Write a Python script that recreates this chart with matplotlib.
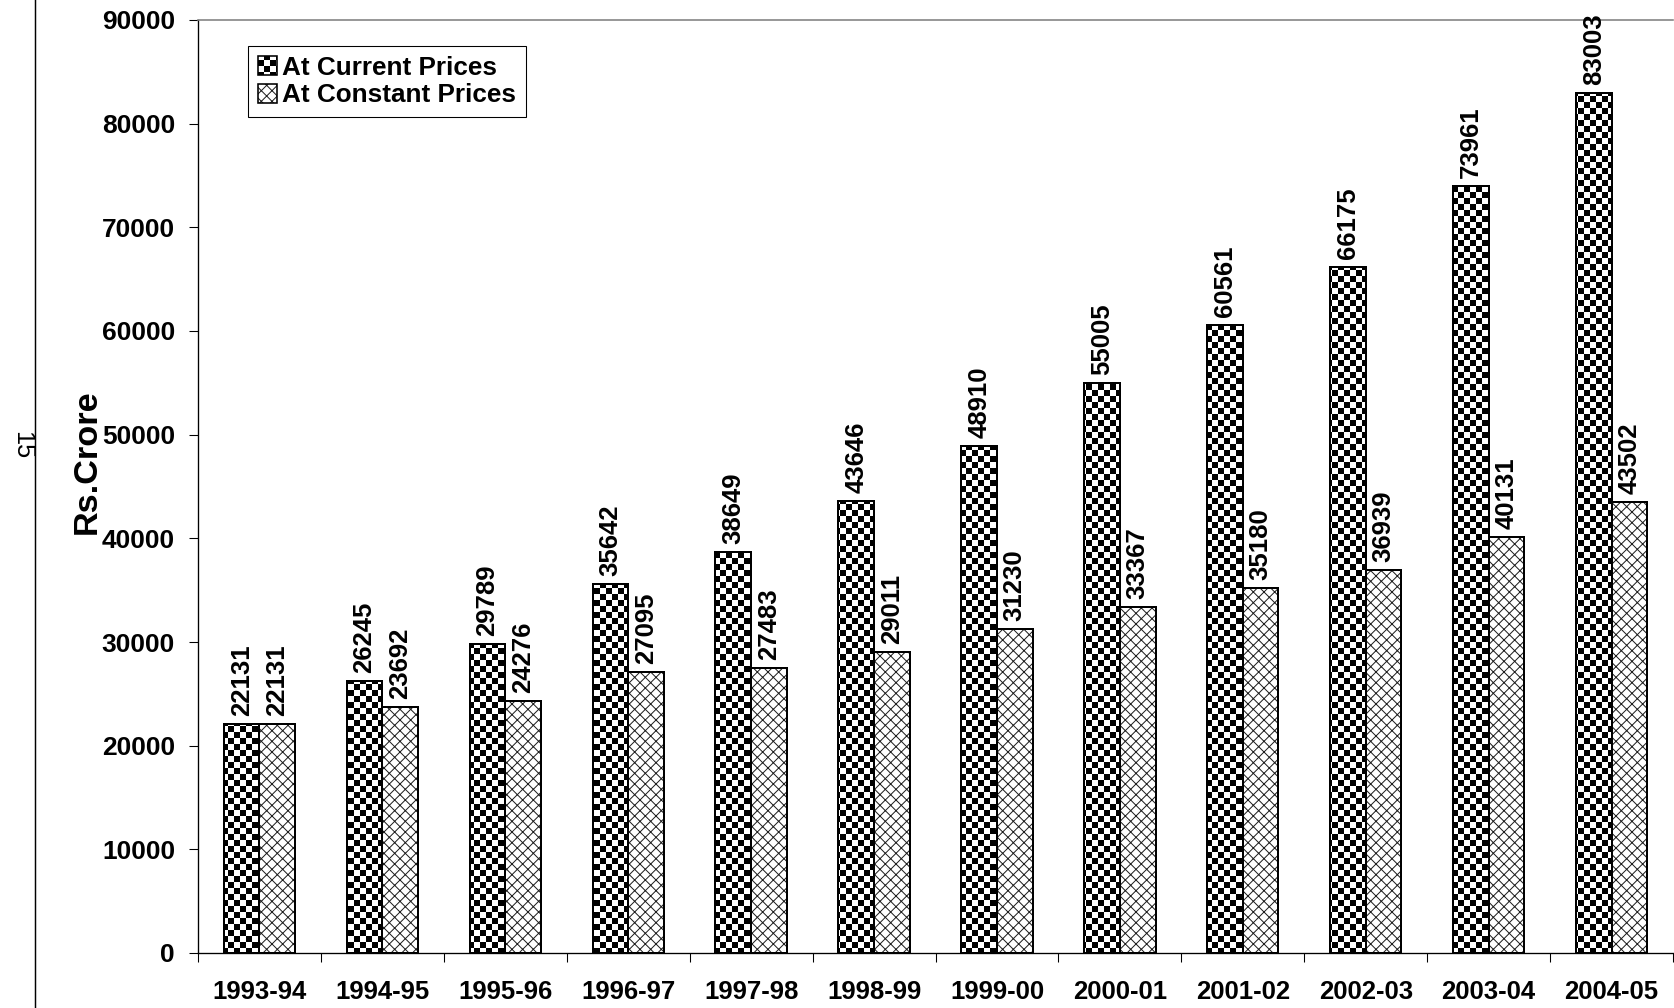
import warnings
import numpy as np
import matplotlib
matplotlib.use("Agg")
import matplotlib.pyplot as plt
import matplotlib.hatch as mhatch
import matplotlib.patches as mpatches
from matplotlib.lines import Line2D
from matplotlib.path import Path

warnings.filterwarnings("ignore", message=".*hatch must consist.*")

# ---- data -------------------------------------------------------------
years = ["1993-94", "1994-95", "1995-96", "1996-97", "1997-98", "1998-99",
         "1999-00", "2000-01", "2001-02", "2002-03", "2003-04", "2004-05"]
current_prices = [22131, 26245, 29789, 35642, 38649, 43646,
                  48910, 55005, 60561, 66175, 73961, 83003]
constant_prices = [22131, 23692, 24276, 27095, 27483, 29011,
                   31230, 33367, 35180, 36939, 40131, 43502]
y_ticks = list(range(0, 90001, 10000))

DPI = 96


# ---- custom fill patterns --------------------------------------------
class CheckerHatch(mhatch.HatchPatternBase):
    """Checkerboard of filled squares ('c')."""
    cells = 16

    def __init__(self, hatch, density):
        self.on = hatch.count("c") > 0
        self.num_vertices = (self.cells * self.cells // 2) * 5 if self.on else 0

    def set_vertices_and_codes(self, vertices, codes):
        step = 1.0 / self.cells
        inset = 0.5 / DPI
        k = 0
        for i in range(self.cells):
            for j in range(self.cells):
                if (i + j) % 2:
                    continue
                x0, y0 = i * step + inset, j * step + inset
                x1, y1 = (i + 1) * step - inset, (j + 1) * step - inset
                vertices[k:k + 5] = [(x0, y0), (x1, y0), (x1, y1), (x0, y1), (x0, y0)]
                codes[k:k + 5] = [Path.MOVETO, Path.LINETO, Path.LINETO,
                                  Path.LINETO, Path.CLOSEPOLY]
                k += 5


class LatticeHatch(mhatch.HatchPatternBase):
    """Fine diagonal lattice ('d')."""
    lines = 9

    def __init__(self, hatch, density):
        self.on = hatch.count("d") > 0
        n = 2 * self.lines + 1
        self.num_vertices = 4 * n if self.on else 0

    def set_vertices_and_codes(self, vertices, codes):
        n = self.lines
        cs = np.arange(-n, n + 1) / n
        k = 0
        for c in cs:          # x - y = c
            vertices[k] = (c - 1, -1)
            vertices[k + 1] = (c + 2, 2)
            codes[k], codes[k + 1] = Path.MOVETO, Path.LINETO
            k += 2
        for c in cs + 1:      # x + y = c
            vertices[k] = (c + 1, -1)
            vertices[k + 1] = (c - 2, 2)
            codes[k], codes[k + 1] = Path.MOVETO, Path.LINETO
            k += 2


mhatch._hatch_types.extend([CheckerHatch, LatticeHatch])

# ---- style -------------------------------------------------------------
plt.rcParams["font.family"] = ["Liberation Sans", "DejaVu Sans"]
plt.rcParams["hatch.linewidth"] = 0.75

W, H = 1674, 1008
fig = plt.figure(figsize=(W / DPI, H / DPI), dpi=DPI)
fig.patch.set_facecolor("white")

ax_left, ax_right, ax_top, ax_bottom = 198, 1673, 20, 953
ax = fig.add_axes([ax_left / W, (H - ax_bottom) / H,
                   (ax_right - ax_left) / W, (ax_bottom - ax_top) / H])

x = np.arange(len(years))
bw = 0.29
LATTICE = "#1e1e1e"

ax.bar(x - bw / 2, current_prices, bw, facecolor="white", edgecolor="black",
       hatch="c", linewidth=1.5, zorder=2)
ax.bar(x + bw / 2, constant_prices, bw, facecolor="white", edgecolor=LATTICE,
       hatch="d", linewidth=0, zorder=2)
ax.bar(x + bw / 2, constant_prices, bw, fill=False, edgecolor="black",
       linewidth=1.5, zorder=3)

label_kw = dict(textcoords="offset points", xytext=(0, 6), rotation=90,
                ha="center", va="bottom", fontsize=19.3, fontweight="bold")
for xi, v in zip(x, current_prices):
    ax.annotate(f"{v}", (xi - bw / 2, v), **label_kw)
for xi, v in zip(x, constant_prices):
    ax.annotate(f"{v}", (xi + bw / 2, v), **label_kw)

ax.set_xlim(-0.5, len(years) - 0.5)
ax.set_ylim(0, 90000)

ax.set_yticks(y_ticks)
ax.set_yticklabels([str(t) for t in y_ticks], fontsize=19.8, fontweight="bold")
ax.tick_params(axis="y", direction="out", length=6.75, width=0.8, pad=10.5,
               color="black")

ax.set_xticks(x)
ax.set_xticklabels(years, fontsize=19.3, fontweight="bold")
ax.set_xticks(np.arange(-0.5, len(years), 1.0), minor=True)
ax.tick_params(axis="x", which="major", length=0, pad=20)
ax.tick_params(axis="x", which="minor", direction="out", length=6.75,
               width=0.8, color="black")

for side in ("left", "bottom"):
    ax.spines[side].set_color("black")
    ax.spines[side].set_linewidth(1.0)
ax.spines["top"].set_color("#808080")
ax.spines["top"].set_linewidth(1.2)
ax.spines["right"].set_visible(False)

ax.set_ylabel("Rs.Crore", fontsize=25.7, fontweight="bold")
ax.yaxis.set_label_coords((87 - ax_left) / (ax_right - ax_left),
                          (ax_bottom - 462) / (ax_bottom - ax_top))
ax.yaxis.label.set_va("center")

# legend
h_cur = mpatches.Patch(facecolor="white", edgecolor="black", hatch="c", linewidth=1.2)
h_con_fill = mpatches.Patch(facecolor="white", edgecolor=LATTICE, hatch="d", linewidth=0)
h_con_edge = mpatches.Patch(fill=False, edgecolor="black", linewidth=1.2)
leg = ax.legend([h_cur, (h_con_fill, h_con_edge)],
                ["At Current Prices", "At Constant Prices"],
                loc="upper left", bbox_to_anchor=(248 / W, 1 - 46 / H),
                bbox_transform=fig.transFigure, borderaxespad=0,
                prop={"size": 19.6, "weight": "bold"},
                handlelength=0.72, handleheight=0.72, handletextpad=0.22,
                labelspacing=0.13, borderpad=0.38, fancybox=False,
                framealpha=1, edgecolor="black")
leg.get_frame().set_linewidth(0.8)

# page margin rule and page number
fig.add_artist(Line2D([35 / W, 35 / W], [0, 1], transform=fig.transFigure,
                      color="black", linewidth=1.1))
fig.text(22 / W, 1 - 445 / H, "15", rotation=-90, ha="center", va="center",
         fontsize=19)

fig.savefig("out.png", dpi=DPI, facecolor="white")
